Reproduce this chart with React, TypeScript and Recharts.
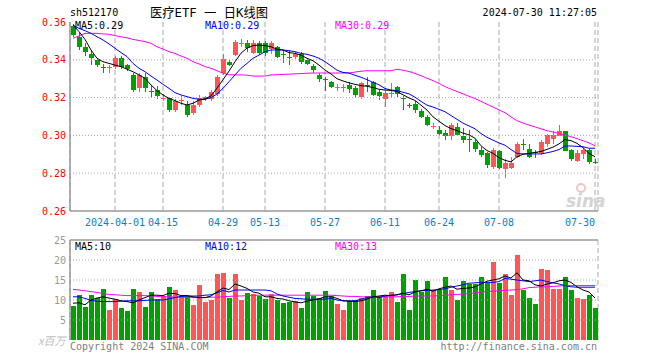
import React from "react";
import {
  ComposedChart,
  XAxis,
  YAxis,
  Bar,
  Line,
  CartesianGrid,
  ReferenceLine,
} from "recharts";

const MONO = '"DejaVu Sans Mono", "Liberation Mono", monospace';
const CJK = '"DejaVu Sans Mono", "Noto Sans CJK SC", sans-serif';
const RED = "#ff5555";
const GREEN = "#00a000";
const AXIS = "#999999";
const GRID = "#aaaaaa";

// trading days 2024-03-21 .. 2024-07-30
const DATES = [
  "2024-03-21", "2024-03-22", "2024-03-25", "2024-03-26", "2024-03-27", "2024-03-28", "2024-03-29",
  "2024-04-01", "2024-04-02", "2024-04-03", "2024-04-08", "2024-04-09", "2024-04-10", "2024-04-11", "2024-04-12",
  "2024-04-15", "2024-04-16", "2024-04-17", "2024-04-18", "2024-04-19", "2024-04-22", "2024-04-23", "2024-04-24",
  "2024-04-25", "2024-04-26", "2024-04-29", "2024-04-30",
  "2024-05-06", "2024-05-07", "2024-05-08", "2024-05-09", "2024-05-10", "2024-05-13", "2024-05-14", "2024-05-15",
  "2024-05-16", "2024-05-17", "2024-05-20", "2024-05-21", "2024-05-22", "2024-05-23", "2024-05-24", "2024-05-27",
  "2024-05-28", "2024-05-29", "2024-05-30", "2024-05-31",
  "2024-06-03", "2024-06-04", "2024-06-05", "2024-06-06", "2024-06-07", "2024-06-11", "2024-06-12", "2024-06-13",
  "2024-06-14", "2024-06-17", "2024-06-18", "2024-06-19", "2024-06-20", "2024-06-21", "2024-06-24", "2024-06-25",
  "2024-06-26", "2024-06-27", "2024-06-28",
  "2024-07-01", "2024-07-02", "2024-07-03", "2024-07-04", "2024-07-05", "2024-07-08", "2024-07-09", "2024-07-10",
  "2024-07-11", "2024-07-12", "2024-07-15", "2024-07-16", "2024-07-17", "2024-07-18", "2024-07-19", "2024-07-22",
  "2024-07-23", "2024-07-24", "2024-07-25", "2024-07-26", "2024-07-29", "2024-07-30",
];

const OPEN = [
  0.358, 0.352, 0.347, 0.343, 0.34, 0.336, 0.336, 0.336, 0.341, 0.337,
  0.332, 0.325, 0.331, 0.3235, 0.324, 0.32, 0.32, 0.3135, 0.318, 0.316,
  0.312, 0.316, 0.319, 0.3195, 0.322, 0.333, 0.339, 0.3425, 0.349, 0.349,
  0.3435, 0.349, 0.349, 0.3455, 0.347, 0.343, 0.3415, 0.3415, 0.343, 0.34,
  0.3365, 0.332, 0.33, 0.328, 0.3255, 0.3255, 0.3265, 0.325, 0.3205, 0.3265,
  0.328, 0.323, 0.3195, 0.322, 0.3255, 0.32, 0.316, 0.3165, 0.313, 0.3095,
  0.305, 0.303, 0.3015, 0.2995, 0.3045, 0.2995, 0.298, 0.2965, 0.2925, 0.2905,
  0.2835, 0.2915, 0.282, 0.283, 0.2885, 0.2955, 0.293, 0.291, 0.2905, 0.2955,
  0.298, 0.2995, 0.3025, 0.2925, 0.2865, 0.29, 0.2925, 0.286,
];
const HIGH = [
  0.359, 0.354, 0.349, 0.345, 0.341, 0.338, 0.337, 0.342, 0.342, 0.338,
  0.333, 0.333, 0.333, 0.326, 0.326, 0.322, 0.3205, 0.319, 0.321, 0.318,
  0.318, 0.3215, 0.321, 0.324, 0.332, 0.343, 0.34, 0.3505, 0.351, 0.3505,
  0.3505, 0.35, 0.35, 0.35, 0.3475, 0.345, 0.345, 0.344, 0.344, 0.341,
  0.338, 0.333, 0.331, 0.329, 0.327, 0.327, 0.3285, 0.326, 0.328, 0.331,
  0.329, 0.324, 0.3235, 0.3275, 0.326, 0.321, 0.317, 0.318, 0.314, 0.311,
  0.3065, 0.305, 0.303, 0.3065, 0.3065, 0.304, 0.303, 0.298, 0.294, 0.291,
  0.2935, 0.2925, 0.2875, 0.2885, 0.2965, 0.298, 0.2955, 0.2925, 0.2975, 0.301,
  0.3025, 0.3055, 0.3025, 0.293, 0.2925, 0.2935, 0.293, 0.2875,
];
const LOW = [
  0.352, 0.345, 0.342, 0.337, 0.336, 0.333, 0.333, 0.335, 0.335, 0.334,
  0.323, 0.323, 0.323, 0.3205, 0.319, 0.318, 0.3125, 0.3125, 0.316, 0.31,
  0.311, 0.315, 0.318, 0.318, 0.321, 0.332, 0.3365, 0.342, 0.347, 0.344,
  0.343, 0.3425, 0.342, 0.343, 0.341, 0.3385, 0.3375, 0.3405, 0.338, 0.337,
  0.333, 0.3285, 0.3235, 0.325, 0.3235, 0.323, 0.3225, 0.3205, 0.3195, 0.323,
  0.321, 0.3185, 0.315, 0.3205, 0.3205, 0.3135, 0.3145, 0.312, 0.309, 0.305,
  0.3035, 0.3, 0.2975, 0.2975, 0.2995, 0.296, 0.291, 0.291, 0.2885, 0.283,
  0.282, 0.282, 0.2775, 0.282, 0.288, 0.2925, 0.288, 0.288, 0.2895, 0.294,
  0.2955, 0.2995, 0.2915, 0.2865, 0.286, 0.2875, 0.285, 0.285,
];
const CLOSE = [
  0.353, 0.347, 0.344, 0.341, 0.337, 0.3355, 0.336, 0.341, 0.336, 0.335,
  0.324, 0.332, 0.325, 0.323, 0.321, 0.32, 0.3135, 0.318, 0.3185, 0.311,
  0.316, 0.32, 0.3205, 0.323, 0.331, 0.3405, 0.337, 0.3495, 0.349, 0.3465,
  0.349, 0.3435, 0.3435, 0.349, 0.3415, 0.3425, 0.341, 0.343, 0.339, 0.338,
  0.3345, 0.33, 0.3295, 0.3255, 0.3255, 0.3255, 0.3245, 0.3215, 0.3275, 0.326,
  0.3215, 0.321, 0.3225, 0.3225, 0.322, 0.3195, 0.3155, 0.3135, 0.3095, 0.3055,
  0.305, 0.301, 0.2995, 0.3055, 0.3, 0.2975, 0.2975, 0.293, 0.2895, 0.2845,
  0.2925, 0.283, 0.2855, 0.2855, 0.2955, 0.295, 0.2885, 0.2905, 0.2965, 0.3,
  0.3, 0.3025, 0.292, 0.2875, 0.2905, 0.2925, 0.286, 0.2855,
];

const MA5 = [
  0.3584, 0.3549, 0.3508, 0.3452, 0.3408, 0.339, 0.3381, 0.3372, 0.3364, 0.335,
  0.3337, 0.332, 0.3302, 0.3267, 0.3237, 0.3214, 0.3196, 0.3184, 0.317, 0.3161,
  0.317, 0.3187, 0.3193, 0.3209, 0.325, 0.3295, 0.334, 0.339, 0.3435, 0.3462,
  0.3475, 0.3478, 0.3475, 0.3469, 0.3456, 0.3452, 0.3438, 0.3434, 0.3425, 0.3408,
  0.3395, 0.3372, 0.3346, 0.3325, 0.33, 0.3288, 0.3278, 0.327, 0.3263, 0.326,
  0.3253, 0.3244, 0.324, 0.3238, 0.3232, 0.3215, 0.3198, 0.3185, 0.316, 0.3134,
  0.3098, 0.3075, 0.3052, 0.3036, 0.3025, 0.3012, 0.3003, 0.2985, 0.2945, 0.292,
  0.2905, 0.2882, 0.2868, 0.286, 0.2887, 0.29, 0.2905, 0.291, 0.2915, 0.2926,
  0.2938, 0.2955, 0.2978, 0.2972, 0.2958, 0.2935, 0.2905, 0.2887,
];
const MA10 = [
  0.3584, 0.3566, 0.3554, 0.354, 0.3522, 0.3505, 0.3484, 0.3461, 0.3438, 0.3417,
  0.3381, 0.3355, 0.3337, 0.3314, 0.3293, 0.327, 0.3249, 0.3226, 0.3214, 0.3205,
  0.3196, 0.3191, 0.3191, 0.32, 0.3219, 0.3249, 0.3284, 0.332, 0.3355, 0.3381,
  0.3408, 0.3425, 0.3443, 0.3452, 0.3452, 0.3452, 0.3448, 0.3443, 0.3434, 0.3429,
  0.342, 0.3408, 0.339, 0.3368, 0.3345, 0.3333, 0.333, 0.3318, 0.3308, 0.3295,
  0.328, 0.3268, 0.3248, 0.324, 0.3237, 0.3228, 0.322, 0.3202, 0.318, 0.316,
  0.315, 0.3138, 0.3125, 0.3105, 0.3085, 0.3065, 0.305, 0.3035, 0.301, 0.299,
  0.2975, 0.296, 0.2948, 0.2925, 0.2905, 0.2902, 0.2902, 0.2902, 0.2902, 0.2908,
  0.2915, 0.2925, 0.2944, 0.2944, 0.2942, 0.294, 0.2932, 0.2932,
];
const MA30 = [
  0.3514, 0.3526, 0.354, 0.354, 0.354, 0.3537, 0.3535, 0.3528, 0.3522, 0.3516,
  0.3508, 0.3502, 0.3496, 0.3487, 0.3469, 0.3457, 0.3443, 0.3434, 0.342, 0.3408,
  0.339, 0.3378, 0.3364, 0.3355, 0.3342, 0.3329, 0.3321, 0.332, 0.332, 0.3319,
  0.3314, 0.3314, 0.3314, 0.332, 0.3321, 0.3323, 0.3324, 0.3326, 0.3327, 0.3329,
  0.333, 0.333, 0.333, 0.333, 0.333, 0.333, 0.333, 0.3335, 0.334, 0.3342,
  0.3342, 0.3342, 0.3342, 0.3342, 0.335, 0.3345, 0.3338, 0.3328, 0.3316, 0.3302,
  0.329, 0.3275, 0.3258, 0.3245, 0.3232, 0.322, 0.3207, 0.3195, 0.318, 0.3165,
  0.315, 0.3135, 0.312, 0.3098, 0.3078, 0.3065, 0.3055, 0.3045, 0.3035, 0.3025,
  0.3018, 0.301, 0.3002, 0.2993, 0.2983, 0.2972, 0.296, 0.2945,
];

// volume, in millions
const VOL = [
  8.5, 11.25, 8.25, 11.25, 10.4, 12.75, 7.5, 10.25, 8, 7.25,
  12.75, 12, 8.25, 12, 10.25, 11, 13.2, 12.5, 11, 11,
  8.75, 13.75, 9.6, 10, 16.5, 16.8, 10.6, 16.5, 10, 11.75,
  11.5, 11.1, 10.25, 11.5, 10, 9.3, 9.5, 9.8, 8, 12,
  11.1, 10.4, 12.25, 11.1, 9, 7.5, 9.8, 10, 10.4, 11,
  12.5, 11, 11, 12, 9.6, 16.5, 7.5, 15, 12, 14.75,
  12.5, 12.5, 15.7, 12.5, 10, 14.75, 14, 14, 15.7, 14.2,
  19.5, 14.2, 16.5, 11.25, 21.25, 12.5, 10.4, 9, 17.75, 17.5,
  12.75, 12.75, 15.7, 12.5, 10.5, 10.25, 11.25, 8,
];
const VMA5 = [
  9.2, 9.3, 8.8, 10, 10.5, 10.8, 10.5, 10.2, 9.8, 9.6,
  9.3, 10, 10.6, 11.2, 11.2, 11.1, 11.7, 11.6, 11.1, 11.1,
  10.8, 10.6, 10.6, 11, 12, 13, 12.6, 14, 13.5, 12.9,
  12, 11.7, 10.8, 10.8, 10.4, 10.25, 9.8, 9.5, 9.3, 9.7,
  10, 10.3, 10.8, 10.8, 10.4, 9.8, 9.7, 9.6, 9.8, 10.2,
  10.8, 11, 11.2, 11.1, 11.3, 11.7, 11.3, 12, 12.3, 12.7,
  12.2, 12.8, 13.2, 13.5, 12.7, 12.9, 13, 13.3, 14, 14.7,
  15, 15.3, 16, 15.5, 16.8, 15, 14.8, 13.8, 13.5, 14,
  14.3, 14.8, 15, 14.4, 13.3, 12.5, 12, 10.5,
];
const VMA10 = [
  10.8, 10.8, 10.4, 9.9, 9.7, 9.6, 9.6, 9.6, 9.7, 9.8,
  9.8, 9.8, 9.9, 10, 10, 10, 10.3, 10.6, 10.9, 11,
  11, 11, 11.2, 11.3, 11.8, 12.4, 12, 12.5, 12.5, 12.5,
  12.5, 12.5, 12.5, 12.3, 11.5, 11, 10.7, 10.4, 10.3, 10.2,
  10.2, 10.2, 10.2, 10.4, 10, 9.8, 9.8, 9.8, 10.2, 10.6,
  10.8, 10.6, 11, 11.2, 11.3, 11.6, 11.9, 12.1, 12.3, 12.4,
  12.5, 12.6, 12.8, 13.2, 13.5, 13.8, 14.2, 14.3, 14.4, 14.4,
  14.4, 14.6, 15.4, 15.2, 15, 14.8, 14.6, 14.8, 15, 14.6,
  14.3, 14, 13.6, 13.3, 13.2, 13.2, 13.2, 13.2,
];
const VMA30 = [
  12.65, 12.5, 12.3, 12.1, 11.9, 11.6, 11.4, 11.3, 11.2, 11.1,
  11.1, 11.1, 11.1, 11, 10.9, 10.8, 10.8, 10.7, 10.7, 10.6,
  10.6, 10.6, 10.6, 10.7, 10.7, 10.8, 10.9, 11, 11, 11.1,
  11.1, 11.2, 11.2, 11.2, 11.2, 11.2, 11.2, 11.2, 11.2, 11.2,
  11.2, 11.2, 11.2, 11.2, 11.1, 11, 10.9, 10.9, 10.8, 10.8,
  10.8, 10.8, 10.8, 10.8, 10.8, 10.9, 10.9, 11, 11, 11,
  11, 11.1, 11.2, 11.3, 11.4, 11.5, 11.6, 11.8, 12, 12.1,
  12.2, 12.3, 12.4, 12.5, 12.6, 12.8, 13.1, 13.2, 13.3, 13.3,
  13.4, 13.5, 13.6, 13.6, 13.6, 13.6, 13.6, 13.6,
];

const TICK_DATES = [
  "2024-04-01", "2024-04-15", "2024-04-29", "2024-05-13", "2024-05-27",
  "2024-06-11", "2024-06-24", "2024-07-08", "2024-07-30",
];
const PRICE_TICKS = [0.26, 0.28, 0.3, 0.32, 0.34, 0.36];
const PRICE_GRID = [0.28, 0.3, 0.32, 0.34];
const VOL_TICKS = [0, 5, 10, 15, 20, 25];
const VOL_GRID = [5, 10, 15, 20];

const TITLE_CODE = "sh512170";
const TITLE = "医疗ETF 一 日K线图";
const STAMP = "2024-07-30 11:27:05";
const PRICE_LEGEND = ["MA5:0.29", "MA10:0.29", "MA30:0.29"];
const VOL_LEGEND = ["MA5:10", "MA10:12", "MA30:13"];
const LEGEND_COLORS = ["#000000", "#0000ff", "#ff00ff"];

const data = DATES.map((date, i) => ({
  date,
  open: OPEN[i],
  high: HIGH[i],
  low: LOW[i],
  close: CLOSE[i],
  ma5: MA5[i],
  ma10: MA10[i],
  ma30: MA30[i],
  vol: VOL[i],
  vma5: VMA5[i],
  vma10: VMA10[i],
  vma30: VMA30[i],
  up: CLOSE[i] >= OPEN[i],
}));

function Candle(props: any) {
  const { x, y, width, height, payload } = props;
  if (x == null || y == null || !payload) return null;
  const top = Math.min(y, y + height);
  const bot = Math.max(y, y + height);
  const { open, close, high, low } = payload;
  const span = high - low;
  const toY = (v: number) => (span === 0 ? top : top + ((high - v) / span) * (bot - top));
  const color = close >= open ? RED : GREEN;
  const left = Math.round(x);
  const w = Math.max(1, Math.round(width));
  const cx = left + Math.floor(w / 2) + 0.5;
  const bTop = toY(Math.max(open, close));
  const bBot = toY(Math.min(open, close));
  return (
    <g shapeRendering="crispEdges">
      <line x1={cx} x2={cx} y1={top} y2={bot} stroke={color} strokeWidth={1} />
      {bBot - bTop < 1 ? (
        <line x1={left} x2={left + w} y1={Math.round(bTop) + 0.5} y2={Math.round(bTop) + 0.5} stroke={color} />
      ) : (
        <rect x={left} y={bTop} width={w} height={bBot - bTop} fill={color} />
      )}
    </g>
  );
}

function VolBar(props: any) {
  const { x, y, width, height, payload } = props;
  if (x == null || y == null || !payload) return null;
  return (
    <rect
      x={Math.round(x)}
      y={y}
      width={Math.max(1, Math.round(width))}
      height={height}
      fill={payload.up ? RED : GREEN}
      shapeRendering="crispEdges"
    />
  );
}

function DateTick(props: any) {
  const { x, y, payload } = props;
  const v: string = payload.value;
  const first = v === TICK_DATES[0];
  const last = v === TICK_DATES[TICK_DATES.length - 1];
  return (
    <text
      x={x}
      y={y}
      dy="0.71em"
      textAnchor={last ? "end" : "middle"}
      fill="#0a80d0"
      fontSize={10}
      fontFamily={MONO}
    >
      {first ? v : v.slice(5)}
    </text>
  );
}

export default function App() {
  return (
    <div style={{ position: "absolute", left: 0, top: 0, width: 660, height: 360, background: "#fff" }}>
      <div style={{ position: "absolute", left: 0, top: 0 }}>
        <ComposedChart width={660} height={232} data={data} margin={{ top: 22, right: 62, bottom: 0, left: 0 }}>
          <CartesianGrid horizontal={false} stroke={GRID} strokeDasharray="5 3" />
          {PRICE_GRID.map((v) => (
            <ReferenceLine key={v} y={v} stroke={GRID} strokeDasharray="1 2" />
          ))}
          <XAxis
            dataKey="date"
            ticks={TICK_DATES}
            interval={0}
            tickLine={false}
            tick={<DateTick />}
            axisLine={{ stroke: AXIS, strokeWidth: 1.5 }}
            height={21}
          />
          <YAxis
            domain={[0.26, 0.36]}
            ticks={PRICE_TICKS}
            interval={0}
            width={70}
            tickSize={2}
            tickMargin={2}
            tickLine={false}
            axisLine={{ stroke: AXIS, strokeWidth: 1.5 }}
            tick={{ fill: "#ff0000", fontSize: 10, fontFamily: MONO }}
            tickFormatter={(v: number) => v.toFixed(2)}
            allowDataOverflow
          />
          <YAxis
            yAxisId="edge"
            orientation="right"
            width={0}
            domain={[0, 1]}
            tick={false}
            tickLine={false}
            axisLine={{ stroke: AXIS, strokeWidth: 1.5 }}
          />
          <Bar dataKey={(d: any) => [d.low, d.high]} barSize={5} shape={Candle} isAnimationActive={false} />
          <Line type="linear" dataKey="ma30" stroke="#ff00ff" strokeWidth={1} dot={false} isAnimationActive={false} />
          <Line type="linear" dataKey="ma10" stroke="#0000ff" strokeWidth={1} dot={false} isAnimationActive={false} />
          <Line type="linear" dataKey="ma5" stroke="#000000" strokeWidth={1} dot={false} isAnimationActive={false} />
        </ComposedChart>
      </div>

      <div style={{ position: "absolute", left: 0, top: 232 }}>
        <ComposedChart width={660} height={108} data={data} margin={{ top: 8, right: 62, bottom: 0, left: 0 }}>
          <CartesianGrid horizontal={false} stroke={GRID} strokeDasharray="5 3" />
          {VOL_GRID.map((v) => (
            <ReferenceLine key={v} y={v} stroke={GRID} strokeDasharray="1 2" />
          ))}
          <ReferenceLine y={25} stroke={AXIS} strokeWidth={1.5} />
          <XAxis dataKey="date" ticks={TICK_DATES} interval={0} tick={false} tickLine={false} axisLine={false} height={0} />
          <YAxis
            domain={[0, 25]}
            ticks={VOL_TICKS}
            interval={0}
            width={70}
            tickSize={2}
            tickMargin={2}
            tickLine={false}
            axisLine={{ stroke: AXIS, strokeWidth: 1.5 }}
            tick={{ fill: "#999999", fontSize: 10, fontFamily: MONO }}
            tickFormatter={(v: number) => (v === 0 ? "" : String(v))}
          />
          <Bar dataKey="vol" barSize={5} shape={VolBar} isAnimationActive={false} />
          <Line type="linear" dataKey="vma30" stroke="#ff00ff" strokeWidth={1} dot={false} isAnimationActive={false} />
          <Line type="linear" dataKey="vma10" stroke="#0000ff" strokeWidth={1} dot={false} isAnimationActive={false} />
          <Line type="linear" dataKey="vma5" stroke="#000000" strokeWidth={1} dot={false} isAnimationActive={false} />
        </ComposedChart>
      </div>

      <svg
        width={660}
        height={360}
        style={{ position: "absolute", left: 0, top: 0, pointerEvents: "none" }}
      >
        <text x={70} y={16} fontSize={10} fontFamily={MONO} fill="#000">
          {TITLE_CODE}
        </text>
        <text x={150} y={17} fontSize={13} fontFamily={CJK} fill="#000" textLength={118} lengthAdjust="spacingAndGlyphs">
          {TITLE}
        </text>
        <text x={597} y={16} fontSize={10} fontFamily={MONO} fill="#000" textAnchor="end">
          {STAMP}
        </text>
        {PRICE_LEGEND.map((t, i) => (
          <text key={t} x={75 + i * 130} y={29} fontSize={10} fontFamily={MONO} fill={LEGEND_COLORS[i]}>
            {t}
          </text>
        ))}
        {VOL_LEGEND.map((t, i) => (
          <text key={t} x={75 + i * 130} y={250} fontSize={10} fontFamily={MONO} fill={LEGEND_COLORS[i]}>
            {t}
          </text>
        ))}
        <text x={38} y={345} fontSize={11} fontFamily={'"Noto Sans CJK SC", sans-serif'} fill="#c0c0c0" fontStyle="italic">
          x百万
        </text>
        <text x={70} y={350} fontSize={10} fontFamily={MONO} fill="#808080">
          Copyright 2024 SINA.COM
        </text>
        <text x={597} y={350} fontSize={10} fontFamily={MONO} fill="#808080" textAnchor="end">
          http://finance.sina.com.cn
        </text>
        <circle cx={581} cy={188} r={4} fill="none" stroke="#efc4c4" strokeWidth={2} />
        <text x={566} y={207} fontSize={17} fontWeight="bold" fontStyle="italic" fontFamily="Verdana, DejaVu Sans, sans-serif" fill="#d4d4d4">
          sina
        </text>
      </svg>
    </div>
  );
}
